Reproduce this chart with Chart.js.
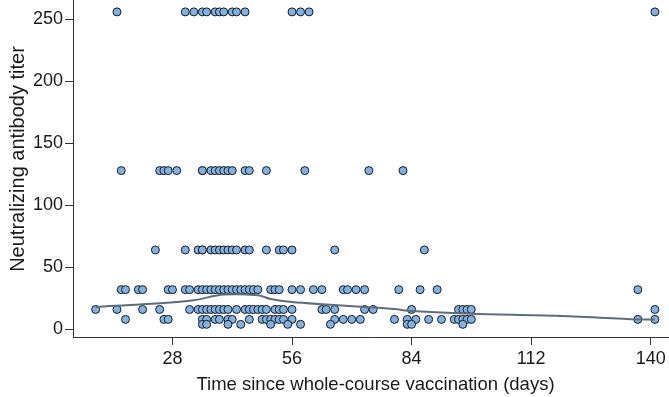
<!DOCTYPE html>
<html>
<head>
<meta charset="utf-8">
<script src="https://cdn.jsdelivr.net/npm/chart.js@4.4.1/dist/chart.umd.min.js"></script>
<style>
  html, body { margin: 0; padding: 0; background: #ffffff; }
  #wrap { width: 669px; height: 397px; }
</style>
</head>
<body>
<div id="wrap"><canvas id="c" width="669" height="397"></canvas></div>
<script>
// Days (x) of each sample, grouped by neutralizing antibody titer (y)
const titerLevels = [256, 128, 64, 32, 16, 8, 4];
const days256 = [15, 31, 33, 35, 36, 38, 39, 40, 42, 43, 45, 56, 58, 60, 141];
const days128 = [16, 25, 26, 27, 29, 35, 35, 37, 38, 39, 40, 41, 42, 45, 46, 50, 59, 74, 82];
const days64  = [24, 31, 34, 35, 35, 37, 38, 39, 40, 41, 42, 43, 45, 46, 50, 53, 54, 56, 66, 87];
const days32  = [16, 17, 20, 21, 27, 28, 31, 32, 34, 35, 36, 37, 38, 39, 40, 41, 42, 43, 44, 45, 46, 47, 48, 51, 52, 53, 56, 58, 61, 63, 68, 69, 71, 73, 81, 86, 90, 137];
const days16  = [10, 15, 21, 25, 32, 34, 35, 36, 37, 38, 39, 40, 41, 43, 45, 46, 47, 48, 49, 50, 52, 53, 54, 56, 63, 64, 66, 73, 75, 84, 95, 96, 97, 98, 141];
const days8   = [17, 26, 27, 35, 36, 38, 39, 41, 42, 46, 49, 50, 51, 52, 53, 54, 56, 66, 68, 70, 72, 80, 83, 85, 88, 91, 94, 95, 96, 97, 98, 137, 141];
const days4   = [35, 36, 41, 44, 51, 55, 58, 65, 83, 84, 96];

// Trend line
const trendDays   = [10, 25, 33, 40, 48, 51, 56, 64, 73, 80, 84, 98, 118, 137, 141];
const trendTiters = [18, 21, 23.5, 28, 27.5, 24.5, 22, 20, 18, 16.3, 14.8, 12.6, 11, 8, 8];

// Axis ticks
const xTickValues = [28, 56, 84, 112, 140];
const yTickValues = [0, 50, 100, 150, 200, 250];

const xTitle = 'Time since whole-course vaccination (days)';
const yTitle = 'Neutralizing antibody titer';

const groups = [days256, days128, days64, days32, days16, days8, days4];
const scatterPoints = [];
groups.forEach((arr, i) => arr.forEach(d => scatterPoints.push({ x: d, y: titerLevels[i] })));
const trendPoints = trendDays.map((d, i) => ({ x: d, y: trendTiters[i] }));

const FONT = "'Liberation Sans', Arial, sans-serif";
const TXT = '#1a1a1a';
const AXIS = '#333333';

// Axis titles drawn as canvas text at the reference's positions
const axisTitles = {
  id: 'axisTitles',
  afterDraw(chart) {
    const ctx = chart.ctx;
    ctx.save();
    ctx.fillStyle = TXT;
    ctx.textAlign = 'center';
    ctx.textBaseline = 'alphabetic';
    ctx.font = '18.5px ' + FONT;
    ctx.fillText(xTitle, 375.5, 390);
    ctx.translate(24, 159);
    ctx.rotate(-Math.PI / 2);
    ctx.font = '20px ' + FONT;
    ctx.fillText(yTitle, 0, 0);
    ctx.restore();
  }
};

new Chart(document.getElementById('c'), {
  type: 'scatter',
  data: {
    datasets: [
      {
        type: 'line',
        data: trendPoints,
        borderColor: '#5e6d7b',
        borderWidth: 2,
        pointRadius: 0,
        fill: false,
        tension: 0.3
      },
      {
        data: scatterPoints,
        backgroundColor: '#80b2e4',
        borderColor: '#1a1a1a',
        borderWidth: 1,
        pointRadius: 4,
        pointHoverRadius: 4
      }
    ]
  },
  plugins: [axisTitles],
  options: {
    responsive: false,
    animation: false,
    devicePixelRatio: 1,
    layout: { autoPadding: false, padding: 0 },
    plugins: { legend: { display: false }, tooltip: { enabled: false } },
    scales: {
      x: {
        type: 'linear',
        min: 4.7,
        max: 144.3,
        afterBuildTicks: s => { s.ticks = xTickValues.map(v => ({ value: v })); },
        afterFit: s => { s.height = 60; s.paddingLeft = 0; s.paddingRight = 0; },
        border: { display: true, color: AXIS, width: 1 },
        grid: { display: true, drawOnChartArea: false, drawTicks: true, tickLength: 8, color: AXIS },
        ticks: { color: TXT, font: { family: FONT, size: 18 }, padding: 3, maxRotation: 0, autoSkip: false },
        title: { display: false }
      },
      y: {
        type: 'linear',
        min: -6.2,
        max: 265.6,
        afterBuildTicks: s => { s.ticks = yTickValues.map(v => ({ value: v })); },
        afterFit: s => { s.width = 73; s.paddingTop = 0; s.paddingBottom = 0; },
        border: { display: true, color: AXIS, width: 1 },
        grid: { display: true, drawOnChartArea: false, drawTicks: true, tickLength: 8, color: AXIS },
        ticks: { color: TXT, font: { family: FONT, size: 18 }, padding: 2, autoSkip: false },
        title: { display: false }
      }
    }
  }
});
</script>
</body>
</html>
